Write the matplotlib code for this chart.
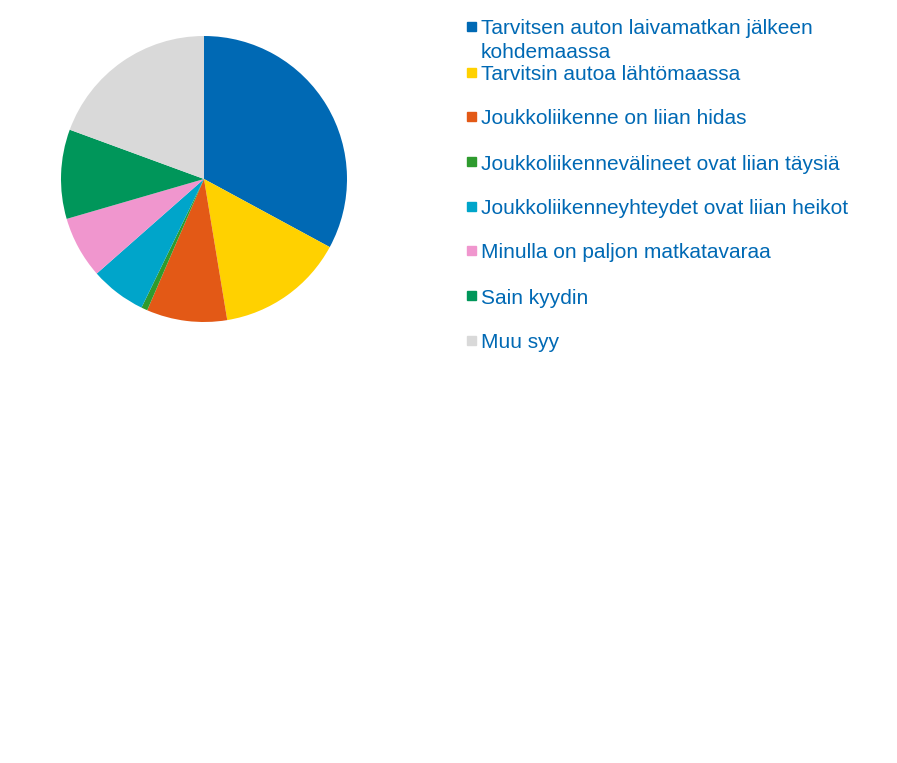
import matplotlib.pyplot as plt
from matplotlib.patches import Rectangle

# survey answers, share of respondents (%)
labels = [
    "Tarvitsen auton laivamatkan jälkeen\nkohdemaassa",
    "Tarvitsin autoa lähtömaassa",
    "Joukkoliikenne on liian hidas",
    "Joukkoliikennevälineet ovat liian täysiä",
    "Joukkoliikenneyhteydet ovat liian heikot",
    "Minulla on paljon matkatavaraa",
    "Sain kyydin",
    "Muu syy",
]
shares = [32.9, 14.5, 9.1, 0.7, 6.3, 7.0, 10.1, 19.4]
colors = ["#0069B4", "#FFD100", "#E35916", "#2E9B2E",
          "#00A5CA", "#F096CE", "#00965A", "#D9D9D9"]

plt.rcParams['font.family'] = ['Liberation Sans', 'DejaVu Sans']

W, H = 897, 763
fig = plt.figure(figsize=(W / 100, H / 100), dpi=100)

# pie: centre (204,179) px, radius 143 px
cx, cy, r = 204, 179, 143
ax = fig.add_axes([(cx - r) / W, 1 - (cy + r) / H, 2 * r / W, 2 * r / H])
ax.pie(shares, colors=colors, startangle=90, counterclock=False,
       wedgeprops=dict(linewidth=0))
ax.set_xlim(-1, 1)
ax.set_ylim(-1, 1)
ax.set_aspect('equal')
ax.axis('off')

# legend drawn by hand to follow the uneven row spacing
rows_y = [27, 73, 117, 162, 207, 251, 296, 341]
text_col = "#0069B4"
for lab, col, y in zip(labels, colors, rows_y):
    fig.patches.append(Rectangle((467 / W, 1 - (y + 4) / H), 9 / W, 9 / H,
                                 transform=fig.transFigure, color=col))
    # one text per line, placed on its baseline
    for k, line in enumerate(lab.split("\n")):
        base = y + 7.5 + 23 * k
        fig.text(481 / W, 1 - base / H, line, color=text_col, fontsize=15,
                 va='baseline', ha='left')

fig.savefig("out.png", dpi=100)
